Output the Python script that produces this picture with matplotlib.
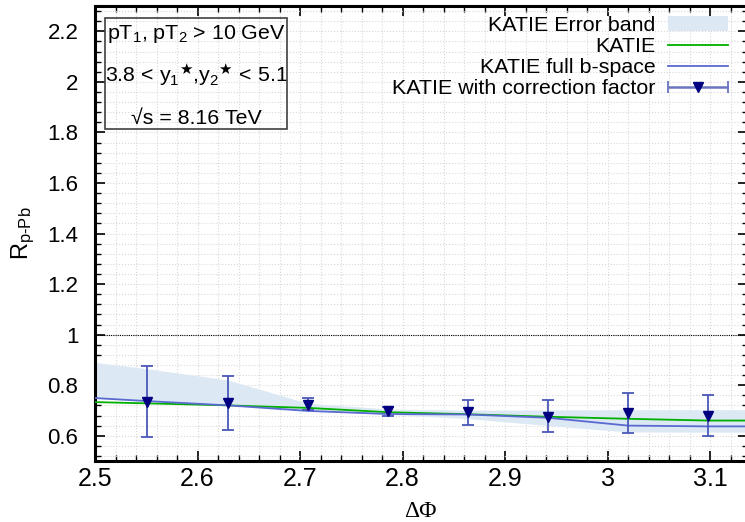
import matplotlib
matplotlib.use('Agg')
import matplotlib.pyplot as plt
import numpy as np
from matplotlib.ticker import MultipleLocator
from matplotlib.legend_handler import HandlerErrorbar

plt.rcParams['font.family'] = ['Liberation Sans', 'DejaVu Sans']
plt.rcParams['mathtext.fontset'] = 'custom'
plt.rcParams['mathtext.rm'] = 'Liberation Sans'
plt.rcParams['mathtext.it'] = 'Liberation Sans:italic'
plt.rcParams['mathtext.sf'] = 'DejaVu Sans'

# KATIE with correction factor (points + errors)
dphi = [2.551, 2.630, 2.708, 2.786, 2.864, 2.942, 3.020, 3.098]
r_corr = [0.735, 0.730, 0.720, 0.696, 0.693, 0.676, 0.690, 0.680]
r_corr_hi = [0.874, 0.836, 0.748, 0.713, 0.743, 0.742, 0.768, 0.763]
r_corr_lo = [0.594, 0.624, 0.702, 0.680, 0.644, 0.616, 0.612, 0.597]

# curves and error band
dphi_curve = [2.5, 2.551, 2.630, 2.708, 2.786, 2.864, 2.942, 3.020, 3.098, 3.137]
r_katie = [0.733, 0.728, 0.720, 0.710, 0.693, 0.685, 0.675, 0.667, 0.660, 0.660]
r_full_b = [0.749, 0.737, 0.720, 0.698, 0.686, 0.684, 0.671, 0.640, 0.637, 0.637]
band_hi = [0.890, 0.865, 0.820, 0.728, 0.706, 0.701, 0.702, 0.703, 0.703, 0.703]
band_lo = [0.748, 0.737, 0.720, 0.700, 0.684, 0.668, 0.640, 0.615, 0.614, 0.614]

fig = plt.figure(figsize=(7.45, 5.22), dpi=100)
ax = fig.add_axes([95 / 745, 61 / 522, 653 / 745, 455 / 522])

ax.fill_between(dphi_curve, band_lo, band_hi, color='#dce8f4', lw=0,
                label='KATIE Error band', zorder=1)
ax.plot(dphi_curve, r_katie, color='#00b000', lw=1.3, label='KATIE', zorder=3)
ax.plot(dphi_curve, r_full_b, color='#5a6ad0', lw=1.3, label='KATIE full b-space', zorder=3)

yerr = [np.array(r_corr) - np.array(r_corr_lo), np.array(r_corr_hi) - np.array(r_corr)]
ax.errorbar(dphi, r_corr, yerr=yerr, fmt='v', color='#000080', ms=7,
            ecolor='#4a58b8', elinewidth=1.3, capsize=4, capthick=1.3, zorder=4)
# proxy for the legend entry (horizontal bar with caps)
proxy = ax.errorbar([np.nan], [np.nan], xerr=[1], fmt='v', color='#000080', ms=7,
                    ecolor='#6a74c0', elinewidth=1.8, capsize=4, capthick=1.3)

ax.axhline(1.0, color='black', lw=0.8, ls=(0, (1, 1)), zorder=2)

ax.set_xlim(2.5, 3.137)
ax.set_ylim(0.5, 2.3)
ax.xaxis.set_minor_locator(MultipleLocator(0.02))
ax.yaxis.set_minor_locator(MultipleLocator(0.04))
ax.set_xticks([2.5, 2.6, 2.7, 2.8, 2.9, 3.0, 3.1])
ax.set_xticklabels(['2.5', '2.6', '2.7', '2.8', '2.9', '3', '3.1'])
ax.set_yticks([0.6, 0.8, 1.0, 1.2, 1.4, 1.6, 1.8, 2.0, 2.2])
ax.set_yticklabels(['0.6', '0.8', '1', '1.2', '1.4', '1.6', '1.8', '2', '2.2'])
ax.tick_params(which='both', direction='in', top=True, right=True)
ax.tick_params(which='major', length=7, width=1.2)
ax.tick_params(which='minor', length=4, width=1)
ax.tick_params(axis='x', labelsize=18, pad=4)
ax.tick_params(axis='y', labelsize=16, pad=12)
ax.grid(which='both', color='#d8d8d8', ls=':', lw=0.8)
ax.set_axisbelow(True)
for sp in ax.spines.values():
    sp.set_linewidth(2.2)

ax.set_xlabel('ΔΦ', family='Liberation Serif', fontsize=17)
ax.xaxis.set_label_coords(0.499, -0.088)
ax.set_ylabel(r'R$_{\mathrm{p\text{-}Pb}}$', fontsize=17)
ax.yaxis.set_label_coords(-0.089, 0.5)

tx = 0.1547
ax.text(tx, 0.9275, 'pT$_1$, pT$_2$ > 10 GeV', transform=ax.transAxes,
        ha='center', va='baseline', fontsize=15.4)
ax.text(tx, 0.833, r'3.8 < y$_1$$^{\mathsf{★}}$,y$_2$$^{\mathsf{★}}$ < 5.1',
        transform=ax.transAxes, ha='center', va='baseline', fontsize=15.4)
ax.text(tx, 0.7407, '√s = 8.16 TeV', transform=ax.transAxes,
        ha='center', va='baseline', fontsize=15.4)
box = plt.Rectangle((105 / 745, 1 - 129 / 522), 182 / 745, 111 / 522,
                    transform=fig.transFigure, fill=False, ec='#404040', lw=1.2)
fig.patches.append(box)

handles, labels = ax.get_legend_handles_labels()
handles = handles[:3] + [proxy]
labels = ['KATIE Error band', 'KATIE', 'KATIE full b-space',
          'KATIE with correction factor']
ax.legend(handles, labels, loc='upper right', bbox_to_anchor=(0.982, 0.997),
          borderaxespad=0, frameon=False, markerfirst=False, fontsize=15.4,
          handlelength=2.8, labelspacing=0.1, handletextpad=0.56,
          handler_map={proxy: HandlerErrorbar(xerr_size=1.4)})

fig.savefig('out.png', dpi=100)
